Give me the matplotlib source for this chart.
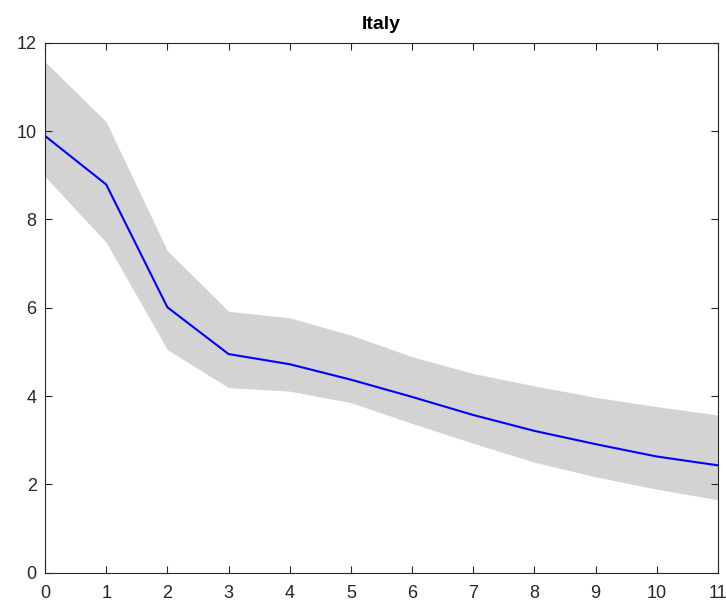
import matplotlib
matplotlib.use("Agg")
import matplotlib.pyplot as plt

# Horizon and estimated response with band
horizon = [0, 1, 2, 3, 4, 5, 6, 7, 8, 9, 10, 11]
mean_vals = [9.89, 8.79, 6.01, 4.95, 4.72, 4.37, 3.98, 3.57, 3.21, 2.91, 2.63, 2.43]
upper_vals = [11.57, 10.21, 7.29, 5.92, 5.77, 5.38, 4.89, 4.51, 4.23, 3.97, 3.76, 3.57]
lower_vals = [8.97, 7.48, 5.05, 4.19, 4.11, 3.85, 3.38, 2.93, 2.50, 2.17, 1.89, 1.65]


def main():
    plt.rcParams["font.family"] = ["Liberation Sans", "DejaVu Sans"]

    fig = plt.figure(figsize=(7.26, 6.06), dpi=100)
    ax = fig.add_axes([0.062, 0.055, 0.927, 0.8745])

    # Confidence band and mean line
    ax.fill_between(horizon, lower_vals, upper_vals, color="#d3d3d3", linewidth=0)
    ax.plot(horizon, mean_vals, color="#0000ff", linewidth=1.5)

    ax.set_xlim(0, 11)
    ax.set_ylim(0, 12)
    ax.set_xticks(range(0, 12))
    ax.set_yticks(range(0, 13, 2))

    ax.tick_params(direction="in", top=True, right=True, length=5,
                   width=0.8, colors="#262626", labelsize=13)
    ax.tick_params(axis="x", pad=9)
    ax.tick_params(axis="y", pad=6)
    for spine in ax.spines.values():
        spine.set_color("#262626")
        spine.set_linewidth(0.8)

    ax.set_title("Italy", fontsize=14, fontweight="bold", pad=10)

    fig.savefig("out.png", dpi=100)


if __name__ == "__main__":
    main()
